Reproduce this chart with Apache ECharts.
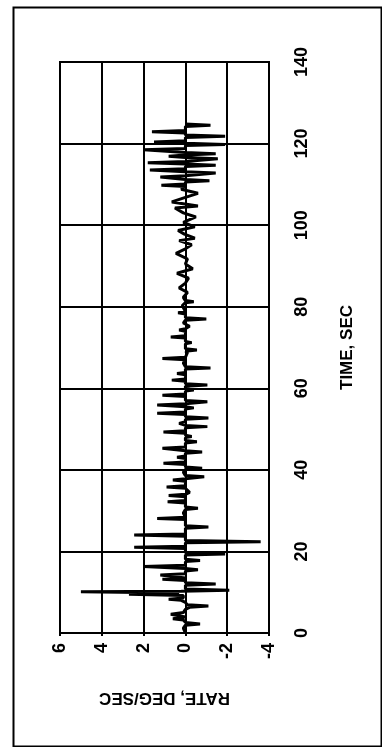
<!DOCTYPE html>
<html>
<head>
<meta charset="utf-8">
<script src="https://cdn.jsdelivr.net/npm/echarts@6/dist/echarts.min.js"></script>
<style>
html,body{margin:0;padding:0;background:#fff;}
#chart{width:382px;height:747px;}
</style>
</head>
<body>
<div id="chart"></div>
<script>
// Time (s) of each sample and rate (deg/s)
const timeSec = [
  0,1.2,1.9,2.2,2.6,3.2,3.5,3.9,4.3,4.6,
  5.0,5.8,6.3,6.6,6.9,7.5,8.0,8.3,8.6,9.2,
  9.5,9.8,10.1,10.25,10.5,10.8,11.7,12.0,12.3,12.9,
  13.2,13.5,13.9,14.2,14.5,15.2,15.5,15.8,16.0,16.3,
  16.6,17.5,17.8,18.1,19.1,19.4,19.7,20.7,21.0,21.3,
  22.1,22.4,22.7,23.7,24.0,24.3,25.7,26.0,26.3,27.8,
  28.1,28.4,29.4,30.3,30.6,30.9,31.9,32.2,32.5,33.4,
  33.7,34.0,34.5,35.5,35.8,36.1,37.2,37.5,37.8,38.0,
  38.3,38.6,39.4,40.1,40.4,40.7,41.3,41.6,41.9,42.8,
  43.1,43.4,44.1,44.4,44.7,45.0,45.3,45.6,46.6,46.9,
  47.2,47.9,48.2,48.5,49.0,49.3,49.6,50.3,50.6,50.9,
  51.4,51.8,52.4,52.7,53.0,53.6,53.9,54.2,54.9,55.2,
  55.5,55.9,56.2,56.4,56.7,57.0,58.0,58.3,58.6,59.3,
  59.6,59.9,60.5,60.8,61.1,61.7,62.0,62.3,63.3,63.6,
  63.9,64.7,65.0,65.3,66.2,67.0,67.3,67.6,68.8,69.1,
  69.4,69.7,70.9,71.2,71.5,72.3,72.6,72.9,74.0,74.3,
  74.6,75.2,76.0,76.7,77.0,77.3,78.2,78.5,78.8,80.3,
  81.0,81.2,81.5,82.3,83.5,84.6,85.8,87.0,88.2,89.3,
  90.5,91.7,93.1,94.2,95.2,96.2,96.8,97.8,98.7,99.6,
  100.7,102.0,103.0,104.2,104.7,105.7,106.8,107.8,108.8,109.5,
  109.8,110.1,110.6,110.9,111.2,111.5,111.8,112.1,112.5,112.8,
  113.1,113.5,113.8,114.4,114.7,115.0,115.3,115.6,116.0,116.3,
  116.6,116.9,117.2,117.5,117.8,118.2,118.5,118.8,119.5,119.8,
  120.1,120.4,120.7,121.5,121.8,122.1,122.6,122.9,123.2,124.2,
  124.5,124.8];
const rateDegSec = [
  0,0.1,0,-0.7,0,0.1,0.6,0,0,0.7,
  0.1,0,-0.2,-1.1,-0.1,0,0.2,0.8,0.1,0.1,
  2.7,0.3,5.0,0.2,-2.1,0,0,-1.45,0,0,
  1.1,0,0,1.2,0,0,-0.6,0,0,2.0,
  0,0,-0.7,0,0,-1.9,0,0,2.45,0,
  0,-3.6,0,0,2.45,0,0,-1.1,0,0,
  1.35,0,0.1,0,-0.6,0,0,0.85,0,0,
  0.8,0,-0.2,0,0.9,0,0,0.6,0,0,
  -0.9,0,0.1,0,-0.8,0,0,1.05,0,0,
  0.4,0,0,-0.8,0,0,1.1,0,0,-0.55,
  0,0,-0.3,0,0,1.05,0,0,-1.05,0,
  0.3,0,0,-1.1,0,0,1.35,0,0,-0.4,
  0,1.35,0,0,-1.05,0,0,1.1,0,0,
  -0.4,0,0,-1.05,0,0,0.65,0,0,0.4,
  0,0,-1.2,0,0.1,0,1.1,0,-0.1,0,
  -0.55,0,0,-0.3,0,0,0.7,0,0,0.3,
  0,-0.2,0.1,0,-1.0,0,0,0.35,0,0.15,
  0,-0.4,0,0.1,-0.1,0.3,0,-0.15,0.4,-0.35,
  0,-0.1,0.45,0,-0.3,0.3,-0.45,0.05,0.35,-0.45,
  0.1,-0.5,0.1,0.5,-0.6,0.65,0,-0.6,0.2,0,
  1.15,0,0,-1.15,0,0,1.2,0,0,-1.45,
  0,1.7,0,0,-1.45,0,1.8,0,0,-1.55,
  0,0.8,0,-1.45,0,0,2.0,0,0,-1.9,
  0,1.5,0,0,-1.9,0,0,1.6,0,0,
  -1.2,0];
const timeTicks = {min: 0, max: 140, interval: 20};
const rateTicks = {min: -4, max: 6, interval: 2};
const timeLabel = 'TIME, SEC';
const rateLabel = 'RATE, DEG/SEC';

const points = timeSec.map((t, i) => [rateDegSec[i], t]);
const font = '"Liberation Sans", Arial, sans-serif';

const chart = echarts.init(document.getElementById('chart'), null, {renderer: 'canvas'});
chart.setOption({
  animation: false,
  backgroundColor: '#fff',
  grid: {left: 60, right: 113, top: 62, bottom: 114, show: true, borderColor: '#000', borderWidth: 2},
  graphic: [{
    type: 'rect', left: 11, top: 5, z: -1,
    shape: {width: 368, height: 739},
    style: {fill: 'none', stroke: '#000', lineWidth: 2}
  }],
  xAxis: {
    type: 'value', inverse: true, position: 'bottom',
    min: rateTicks.min, max: rateTicks.max, interval: rateTicks.interval,
    name: rateLabel, nameLocation: 'middle', nameRotate: 180, nameGap: 56,
    nameTextStyle: {color: '#000', fontSize: 17, fontWeight: 'bold', fontFamily: font},
    axisLine: {show: true, lineStyle: {color: '#000', width: 2}},
    axisTick: {show: true, length: 3, lineStyle: {color: '#000', width: 2}},
    axisLabel: {rotate: 90, margin: 10, color: '#000', fontSize: 18, fontWeight: 'bold', fontFamily: font},
    splitLine: {show: true, lineStyle: {color: '#000', width: 2}}
  },
  yAxis: {
    type: 'value', position: 'right',
    min: timeTicks.min, max: timeTicks.max, interval: timeTicks.interval,
    name: timeLabel, nameLocation: 'middle', nameRotate: 90, nameGap: 70,
    nameTextStyle: {color: '#000', fontSize: 17, fontWeight: 'bold', fontFamily: font},
    axisLine: {show: true, lineStyle: {color: '#000', width: 2}},
    axisTick: {show: false},
    axisLabel: {rotate: 90, margin: 24, color: '#000', fontSize: 18, fontWeight: 'bold', fontFamily: font},
    splitLine: {show: true, lineStyle: {color: '#000', width: 2}}
  },
  series: [{
    type: 'line', data: points, showSymbol: false, symbol: 'none',
    lineStyle: {color: '#000', width: 3}, z: 3
  }]
});
</script>
</body>
</html>
